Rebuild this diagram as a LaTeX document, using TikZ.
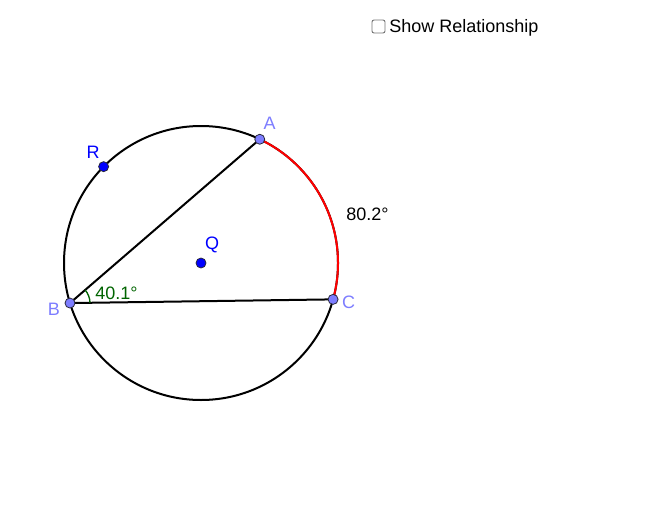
\documentclass[tikz,border=0pt]{standalone}
\usepackage{fontspec}
\setmainfont{Liberation Sans}
\usetikzlibrary{calc}
\definecolor{ptlav}{RGB}{125,125,255}
\definecolor{ptblue}{RGB}{0,0,255}
\definecolor{angg}{RGB}{0,100,0}
\definecolor{ptedge}{RGB}{40,40,60}
\begin{document}
\begin{tikzpicture}[x=0.75pt,y=-0.75pt,
  pt/.style={circle,draw=ptedge,line width=0.6pt,inner sep=0pt,minimum size=7.5pt},
  lav/.style={pt,fill=ptlav},
  blu/.style={pt,fill=ptblue},
  lbl/.style={font=\fontsize{13.5pt}{16pt}\selectfont,inner sep=0pt},
  geo/.style={line width=1.5pt}]
\useasboundingbox (0,0) rectangle (656,510);
\coordinate (Q) at (201,263);
\path (Q) ++(-64.6:137) coordinate (A);
\path (Q) ++(163.0:137) coordinate (B);
\path (Q) ++(15.4:137) coordinate (C);
\path (Q) ++(224.7:137) coordinate (R);
% circle and arc
\draw[geo] (Q) circle[radius=137];
\draw[geo,red] (A) arc[start angle=-64.6,end angle=15.4,radius=137];
% chords
\draw[geo] (A) -- (B) -- (C);
% angle mark
\draw[angg,line width=1pt] ($(B)+(-0.9:20)$) arc[start angle=-0.9,end angle=-40.8,radius=20];
% points
\node[lav] (pA) at (A) {};
\node[lav] (pB) at (B) {};
\node[lav] (pC) at (C) {};
\node[blu] (pR) at (R) {};
\node[blu] (pQ) at (Q) {};
% labels
\node[lbl,text=ptlav] (lA) at (269.5,123) {A};
\node[lbl,text=ptlav] (lB) at (54,309) {B};
\node[lbl,text=ptlav] (lC) at (348.5,302) {C};
\node[lbl,text=ptblue] (lR) at (93,152) {R};
\node[lbl,text=ptblue] (lQ) at (212,245) {Q};
\node[lbl,anchor=base west] (ang) at (95,299) {\textcolor{angg}{40.1°}};
\node[lbl,anchor=base west] (arcm) at (346,220) {80.2°};
% checkbox
\draw[rounded corners=1.5pt,draw=black!55,line width=0.7pt] (372,20) rectangle (385,33);
\node[lbl,anchor=base west] (show) at (389,33) {Show Relationship};
\end{tikzpicture}
\end{document}
